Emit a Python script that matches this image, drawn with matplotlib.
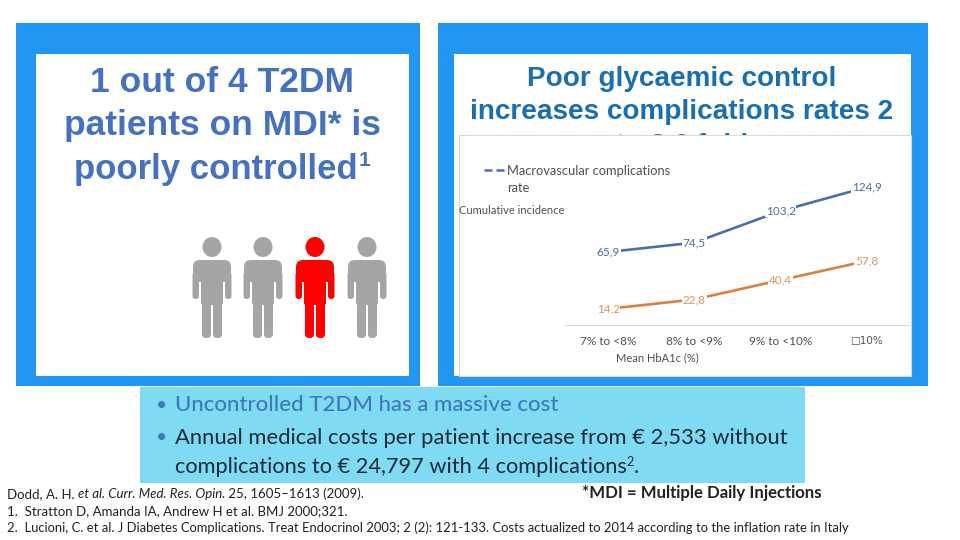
import matplotlib
matplotlib.use("Agg")
import matplotlib.pyplot as plt
from matplotlib.patches import Rectangle, Ellipse, FancyBboxPatch

# chart data
categories = ["7% to <8%", "8% to <9%", "9% to <10%", "\u25a110%"]
macro_rate = [65.9, 74.5, 103.2, 124.9]
micro_rate = [14.2, 22.8, 40.4, 57.8]
person_colors = ["#a5a5a5", "#a5a5a5", "#ff0000", "#a5a5a5"]

BLUE = "#2196f3"
TITLE = "#1a6fb0"
LEFT_TITLE = "#4472c0"
LINE_BLUE = "#4a6eb0"
LINE_ORANGE = "#de7f3c"
DARK = "#1c2b3a"
CHART_FONT = ["Lato", "DejaVu Sans"]

fig = plt.figure(figsize=(9.6, 5.4), dpi=100)
page = fig.add_axes([0, 0, 1, 1])
page.set_xlim(0, 960)
page.set_ylim(540, 0)
page.axis("off")
renderer = fig.canvas.get_renderer()


def box(x0, y0, x1, y1, color, z=1, **kw):
    page.add_patch(Rectangle((x0, y0), x1 - x0, y1 - y0, facecolor=color, edgecolor=kw.get("edge", "none"), linewidth=kw.get("lw", 0), zorder=z))


def rounded(x0, y0, x1, y1, color, r=3):
    page.add_patch(FancyBboxPatch((x0 + r, y0 + r), x1 - x0 - 2 * r, y1 - y0 - 2 * r,
                                  boxstyle=f"round,pad={r},rounding_size={r}",
                                  facecolor=color, edgecolor="none", zorder=3))


def draw_person(cx, color):
    page.add_patch(Ellipse((cx, 247), 19, 20, facecolor=color, edgecolor="none", zorder=3))
    rounded(cx - 19, 260, cx + 19, 282, color, r=7)
    rounded(cx - 19.5, 272, cx - 13, 299, color, r=3)
    rounded(cx + 13, 272, cx + 19.5, 299, color, r=3)
    rounded(cx - 11, 262, cx + 11, 305, color, r=2)
    rounded(cx - 10, 298, cx - 1, 338, color, r=4)
    rounded(cx + 1, 298, cx + 10, 338, color, r=4)


def runs(x, y, parts, **kw):
    # writes pieces of text one after the other on the same line
    for s, extra in parts:
        opts = dict(kw)
        opts.update(extra)
        dy = opts.pop("dy", 0)
        t = page.text(x, y + dy, s, ha="left", va="center", zorder=3, **opts)
        ext = t.get_window_extent(renderer)
        x = page.transData.inverted().transform((ext.x1, 0))[0]


# panels
box(16, 23, 420, 386, BLUE)
box(438, 23, 928, 386, BLUE)
box(36, 54, 409, 376, "white", z=2)
box(454, 54, 911, 376, "white", z=2)

# left panel
for y, s in zip([83, 126], ["1 out of 4 T2DM", "patients on MDI* is"]):
    page.text(222, y, s, ha="center", va="center", fontsize=25.5, color=LEFT_TITLE,
              family="Liberation Sans", fontweight="bold", zorder=3)
page.text(216, 170, "poorly controlled", ha="center", va="center", fontsize=25, color=LEFT_TITLE,
          family="Liberation Sans", fontweight="bold", zorder=3)
page.text(359, 161, "1", ha="left", va="center", fontsize=15, color=LEFT_TITLE, family="Liberation Sans", fontweight="bold", zorder=3)
for cx, c in zip([212, 263, 315, 367], person_colors):
    draw_person(cx, c)

# right panel title, last line is cut off by the chart box
for y, s in zip([79, 112, 146], ["Poor glycaemic control", "increases complications rates 2", "to 3.6 fold"]):
    page.text(682, y, s, ha="center", va="center", fontsize=20.1, color=TITLE,
              family="Liberation Sans", fontweight="bold", zorder=3)
box(459, 135, 911, 376, "white", z=4, edge="#d9d9d9", lw=0.8)

# legend and axis titles of the chart
page.plot([484, 504], [170, 170], color=LINE_BLUE, lw=1.8, ls=(0, (3.2, 1.6)), zorder=5)
page.text(507, 171, "Macrovascular complications", ha="left", va="center", fontsize=9.3, color="#505050", family=CHART_FONT, zorder=5)
page.text(507, 188, "rate", ha="left", va="center", fontsize=9.3, color="#505050", family=CHART_FONT, zorder=5)
page.text(459, 211, "Cumulative incidence", ha="left", va="center", fontsize=8, color="#505050", family=CHART_FONT, zorder=5)
page.text(657, 358, "Mean HbA1c (%)", ha="center", va="center", fontsize=8, color="#505050", family=CHART_FONT, zorder=5)

# the chart itself
ax = fig.add_axes([565 / 960, 1 - 324.5 / 540, 345 / 960, 188.5 / 540])
ax.patch.set_alpha(0)
ax.set_xlim(-0.5, 3.5)
ax.set_ylim(0, 171.4)
xs = list(range(len(categories)))
ax.plot(xs, macro_rate, color=LINE_BLUE, lw=1.9, solid_capstyle="round")
ax.plot(xs, micro_rate, color=LINE_ORANGE, lw=1.9, solid_capstyle="round")
for vals, col in [(macro_rate, "#4f6f9f"), (micro_rate, "#d8965c")]:
    for x, v in zip(xs, vals):
        ax.text(x, v, f"{v:.1f}".replace(".", ","), ha="center", va="center", fontsize=8.5, color=col,
                family=CHART_FONT, bbox=dict(facecolor="white", edgecolor="none", pad=0.6))
ax.set_xticks(xs)
ax.set_xticklabels(categories, fontsize=8.5, color="#505050", family=CHART_FONT)
ax.get_xticklabels()[-1].set_family(["DejaVu Sans"])
ax.get_xticklabels()[-1].set_fontsize(7.5)
ax.tick_params(axis="x", length=0, pad=8)
ax.set_yticks([])
for side in ["top", "left", "right"]:
    ax.spines[side].set_visible(False)
ax.spines["bottom"].set_color("#d9d9d9")

# cost box
box(140, 387, 805, 483, "#7fdbf3", z=2)
page.text(162, 405, "\u2022", ha="center", va="center", fontsize=14, color="#3f78bd", family="Lato", zorder=3)
page.text(162, 438, "\u2022", ha="center", va="center", fontsize=14, color="#3f78bd", family="Lato", zorder=3)
page.text(175, 405, "Uncontrolled T2DM has a massive cost", ha="left", va="center", fontsize=16, color="#3f78bd", family="Lato", fontweight="medium", zorder=3)
page.text(175, 438, "Annual medical costs per patient increase from \u20ac 2,533 without", ha="left", va="center", fontsize=15.8, color=DARK, family="Lato", zorder=3)
runs(175, 467, [("complications to \u20ac 24,797 with 4 complications", {}),
                ("2", {"fontsize": 9, "dy": -5}),
                (".", {})],
     fontsize=15.7, color=DARK, family="Lato")

# references
runs(7, 494, [("Dodd, A. H. ", {}), ("et al. Curr. Med. Res. Opin.", {"style": "italic"}), (" 25, 1605\u20131613 (2009).", {})],
     fontsize=9.5, color="#222222", family="Lato")
page.text(582, 493, "*MDI = Multiple Daily Injections", ha="left", va="center", fontsize=12.05, color="#222222", family="Lato", fontweight="bold", zorder=3)
page.text(7, 511, "1.  Stratton D, Amanda IA, Andrew H et al. BMJ 2000;321.", ha="left", va="center", fontsize=9.5, color="#222222", family="Lato", zorder=3)
page.text(7, 528, "2.  Lucioni, C. et al. J Diabetes Complications. Treat Endocrinol 2003; 2 (2): 121-133. Costs actualized to 2014 according to the inflation rate in Italy", ha="left", va="center", fontsize=9.4, color="#222222", family="Lato", zorder=3)

fig.savefig("out.png", dpi=100)
